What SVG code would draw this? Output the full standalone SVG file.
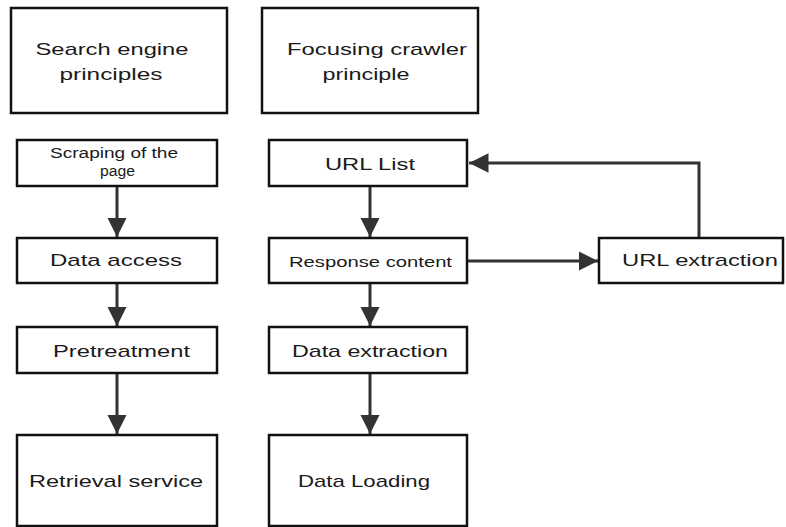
<svg xmlns="http://www.w3.org/2000/svg" width="786" height="527" viewBox="0 0 786 527">
<defs>
<style>
.box{fill:#fff;stroke:#111;stroke-width:2.5}
.t{font-family:"Liberation Sans",Arial,sans-serif;font-size:17px;fill:#1a1a1a;text-anchor:middle}
.s{font-size:14px}
.m{font-size:15px}
.c{fill:none;stroke:#333;stroke-width:3}
</style>
<marker id="ah" viewBox="0 0 10 10" refX="10" refY="5" markerWidth="6.5" markerHeight="6.5" markerUnits="strokeWidth" orient="auto">
<path d="M0,0 L10,5 L0,10 Z" fill="#333"/>
</marker>
</defs>
<rect width="786" height="527" fill="#fff"/>
<g id="connectors">
<line class="c" x1="117" y1="186" x2="117" y2="237" marker-end="url(#ah)"/>
<line class="c" x1="117" y1="283" x2="117" y2="326" marker-end="url(#ah)"/>
<line class="c" x1="117" y1="373" x2="117" y2="434" marker-end="url(#ah)"/>
<line class="c" x1="370" y1="186" x2="370" y2="237" marker-end="url(#ah)"/>
<line class="c" x1="370" y1="283" x2="370" y2="326" marker-end="url(#ah)"/>
<line class="c" x1="370" y1="373" x2="370" y2="434" marker-end="url(#ah)"/>
<line class="c" x1="467" y1="261" x2="598" y2="261" marker-end="url(#ah)"/>
<polyline class="c" points="699,238 699,163 469,163" marker-end="url(#ah)"/>
</g>
<g id="search-engine">
<rect class="box" x="11" y="8" width="216" height="105"/>
<text class="t" x="112" y="55" textLength="153" lengthAdjust="spacingAndGlyphs">Search engine</text>
<text class="t" x="111" y="80" textLength="103" lengthAdjust="spacingAndGlyphs">principles</text>
</g>
<g id="focusing-crawler">
<rect class="box" x="262" y="8" width="216" height="105"/>
<text class="t" x="377" y="55" textLength="180" lengthAdjust="spacingAndGlyphs">Focusing crawler</text>
<text class="t" x="366" y="80" textLength="87" lengthAdjust="spacingAndGlyphs">principle</text>
</g>
<g id="scraping">
<rect class="box" x="17" y="140" width="200" height="46"/>
<text class="t s" x="114" y="158" textLength="128" lengthAdjust="spacingAndGlyphs">Scraping of the</text>
<text class="t s" x="117.5" y="176" textLength="35" lengthAdjust="spacingAndGlyphs">page</text>
</g>
<g id="data-access">
<rect class="box" x="17" y="238" width="200" height="45"/>
<text class="t" x="116" y="266" textLength="132" lengthAdjust="spacingAndGlyphs">Data access</text>
</g>
<g id="pretreatment">
<rect class="box" x="17" y="327" width="200" height="46"/>
<text class="t" x="121.5" y="357" textLength="137" lengthAdjust="spacingAndGlyphs">Pretreatment</text>
</g>
<g id="retrieval-service">
<rect class="box" x="17" y="435" width="200" height="91"/>
<text class="t" x="116" y="487" textLength="174" lengthAdjust="spacingAndGlyphs">Retrieval service</text>
</g>
<g id="url-list">
<rect class="box" x="269" y="140" width="198" height="46"/>
<text class="t" x="370" y="170" textLength="90" lengthAdjust="spacingAndGlyphs">URL List</text>
</g>
<g id="response-content">
<rect class="box" x="269" y="238" width="198" height="45"/>
<text class="t m" x="370.5" y="267" textLength="163" lengthAdjust="spacingAndGlyphs">Response content</text>
</g>
<g id="data-extraction">
<rect class="box" x="269" y="327" width="198" height="46"/>
<text class="t" x="370" y="357" textLength="156" lengthAdjust="spacingAndGlyphs">Data extraction</text>
</g>
<g id="data-loading">
<rect class="box" x="269" y="435" width="198" height="91"/>
<text class="t" x="364" y="487" textLength="132" lengthAdjust="spacingAndGlyphs">Data Loading</text>
</g>
<g id="url-extraction">
<rect class="box" x="599" y="238" width="184" height="45"/>
<text class="t" x="700" y="266" textLength="156" lengthAdjust="spacingAndGlyphs">URL extraction</text>
</g>
</svg>
